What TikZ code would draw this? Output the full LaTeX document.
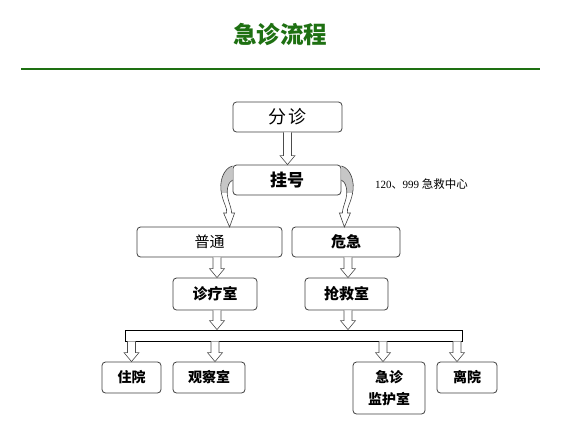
\documentclass[tikz,border=0pt]{standalone}
\usepackage{fontspec}
\setmainfont{Liberation Serif}
\newfontfamily\cjk{Noto Sans CJK SC}
\usetikzlibrary{calc}
\definecolor{titlegreen}{RGB}{30,112,18}
\tikzset{
  box/.style={draw=black!75, line width=0.8pt, rounded corners=3.5pt, fill=white, inner sep=0pt, align=center},
  hollow/.style={draw=black!70, fill=white, line width=0.6pt,
    to path={let \p1=(\tikztostart), \p2=(\tikztotarget) in
      (\x1-4pt,\y1) -- (\x1-4pt,\y2+9pt) -- (\x1-7.5pt,\y2+9pt) -- (\x1,\y2)
      -- (\x1+7.5pt,\y2+9pt) -- (\x1+4pt,\y2+9pt) -- (\x1+4pt,\y1)}},
  curv/.pic={
    \begin{scope}
      \clip (-20,-20) rectangle (0,12);
      \fill[gray!45] (0,-14) .. controls (-9,-12) and (-14,2) .. (-11,14)
        .. controls (-9,24) and (-5,28) .. (-6,33) -- (-9,33) -- (-3,47) -- (2,33) -- (-1,33)
        .. controls (-1,26) and (-7,18) .. (-5,8) .. controls (-4,3) and (-2,1) .. (0,0) -- cycle;
    \end{scope}
    \draw[black!75, line width=0.6pt] (0,-14) .. controls (-9,-12) and (-14,2) .. (-11,14)
        .. controls (-9,24) and (-5,28) .. (-6,33) -- (-9,33) -- (-3,47) -- (2,33) -- (-1,33)
        .. controls (-1,26) and (-7,18) .. (-5,8) .. controls (-4,3) and (-2,1) .. (0,0);
  }
}
\begin{document}
\begin{tikzpicture}[x=1pt,y=-1pt]
\useasboundingbox (0,0) rectangle (565,440);

% title
\node[font=\cjk\bfseries\fontsize{23.5}{26}\selectfont, text=titlegreen] (title) at (280,34) {急诊流程};
\coordinate (l1) at (21,69);
\coordinate (l2) at (540,69);
\draw[titlegreen, line width=1.3pt] (l1) -- (l2);

% boxes
\node[box, minimum width=109pt, minimum height=30pt, font=\cjk\fontsize{18}{20}\selectfont] (fz) at (287.5,117) {分\hspace{2pt}诊};
\node[box, minimum width=108pt, minimum height=30pt, font=\cjk\bfseries\fontsize{17}{20}\selectfont] (gh) at (287,180) {挂号};
\node[box, minimum width=145pt, minimum height=30pt, font=\cjk\fontsize{15}{18}\selectfont] (pt) at (209.5,242) {普通};
\node[box, minimum width=108pt, minimum height=30pt, font=\cjk\bfseries\fontsize{15}{18}\selectfont] (wj) at (346,242) {危急};
\node[box, minimum width=84pt, minimum height=32pt, font=\cjk\bfseries\fontsize{15}{18}\selectfont] (zl) at (215,294) {诊疗室};
\node[box, minimum width=83pt, minimum height=32pt, font=\cjk\bfseries\fontsize{15}{18}\selectfont] (qj) at (346.5,294) {抢救室};
\node[draw=black, line width=0.8pt, minimum width=337pt, minimum height=11pt, inner sep=0pt] (bar) at (293.5,335.5) {};
\node[box, minimum width=59pt, minimum height=31pt, font=\cjk\bfseries\fontsize{14}{17}\selectfont] (zy) at (131.5,377.5) {住院};
\node[box, minimum width=72pt, minimum height=31pt, font=\cjk\bfseries\fontsize{14}{17}\selectfont] (gc) at (209,377.5) {观察室};
\node[box, minimum width=72pt, minimum height=52pt, font=\cjk\bfseries\fontsize{14}{22}\selectfont] (jh) at (389,388) {急诊\\监护室};
\node[box, minimum width=60pt, minimum height=31pt, font=\cjk\bfseries\fontsize{14}{17}\selectfont] (ly) at (467,377.5) {离院};

% side label
\node[anchor=west, inner sep=0pt] (ec) at (375,184) {\fontsize{11}{13}\selectfont 120{\cjk 、}999 {\cjk\fontsize{11.5}{13}\selectfont 急救中心}};

% hollow arrows
\draw[hollow] (fz.south) to (gh.north);
\draw[hollow] ([xshift=2pt]zl.north |- pt.south) to (zl.north);
\draw[hollow] ([xshift=1.5pt]qj.north |- wj.south) to (qj.north);
\draw[hollow] ([xshift=2pt]zl.south) to ([xshift=2pt]zl.south |- bar.north);
\draw[hollow] ([xshift=1.5pt]qj.south) to ([xshift=1.5pt]qj.south |- bar.north);
\draw[hollow] (zy.north |- bar.south) to (zy.north);
\draw[hollow] ([xshift=6pt]gc.north |- bar.south) to ([xshift=6pt]gc.north);
\draw[hollow] ([xshift=-6pt]jh.north |- bar.south) to ([xshift=-6pt]jh.north);
\draw[hollow] ([xshift=-10pt]ly.north |- bar.south) to ([xshift=-10pt]ly.north);

% curved arrows
\pic at (gh.west) {curv};
\pic[xscale=-1] at (gh.east) {curv};
\end{tikzpicture}
\end{document}
